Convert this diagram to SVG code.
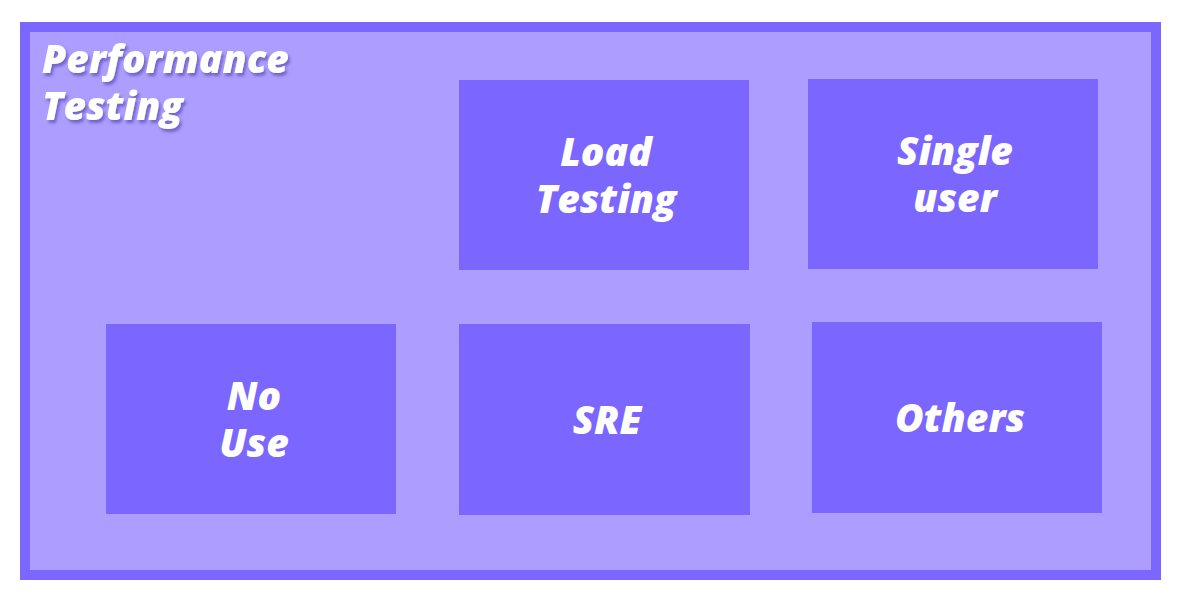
<svg xmlns="http://www.w3.org/2000/svg" width="1180" height="607" viewBox="0 0 1180 607">
<defs>
<filter id="sh" x="-10%" y="-20%" width="130%" height="150%">
<feDropShadow dx="2" dy="3" stdDeviation="1.5" flood-color="#5a48b8" flood-opacity="0.7"/>
</filter>
<style>
.node{fill:#7B66FF;}
.lbl{font-family:"Open Sans","Lato",sans-serif;font-weight:800;font-style:italic;font-size:39px;fill:#ffffff;text-anchor:middle;}
.title{font-family:"Open Sans","Lato",sans-serif;font-weight:800;font-style:italic;font-size:39px;fill:#ffffff;}
</style>
</defs>
<rect width="1180" height="607" fill="#ffffff"/>
<g id="performance-testing">
<rect x="25" y="27" width="1131" height="548" fill="#AC9DFF" stroke="#7B66FF" stroke-width="10"/>
<text class="title" filter="url(#sh)"><tspan x="42" y="73">Performance</tspan><tspan x="42" y="120">Testing</tspan></text>
</g>
<g id="load-testing">
<rect class="node" x="459" y="80" width="290" height="190"/>
<text class="lbl"><tspan x="606" y="166">Load</tspan><tspan x="606" y="213">Testing</tspan></text>
</g>
<g id="single-user">
<rect class="node" x="808" y="79" width="290" height="190"/>
<text class="lbl"><tspan x="955" y="165">Single</tspan><tspan x="955" y="212">user</tspan></text>
</g>
<g id="no-use">
<rect class="node" x="106" y="324" width="290" height="190"/>
<text class="lbl"><tspan x="254" y="410">No</tspan><tspan x="254" y="457">Use</tspan></text>
</g>
<g id="sre">
<rect class="node" x="459" y="324" width="291" height="191"/>
<text class="lbl" x="607" y="434">SRE</text>
</g>
<g id="others">
<rect class="node" x="812" y="322" width="290" height="191"/>
<text class="lbl" x="960" y="432">Others</text>
</g>
<g id="connectors"></g>
</svg>
